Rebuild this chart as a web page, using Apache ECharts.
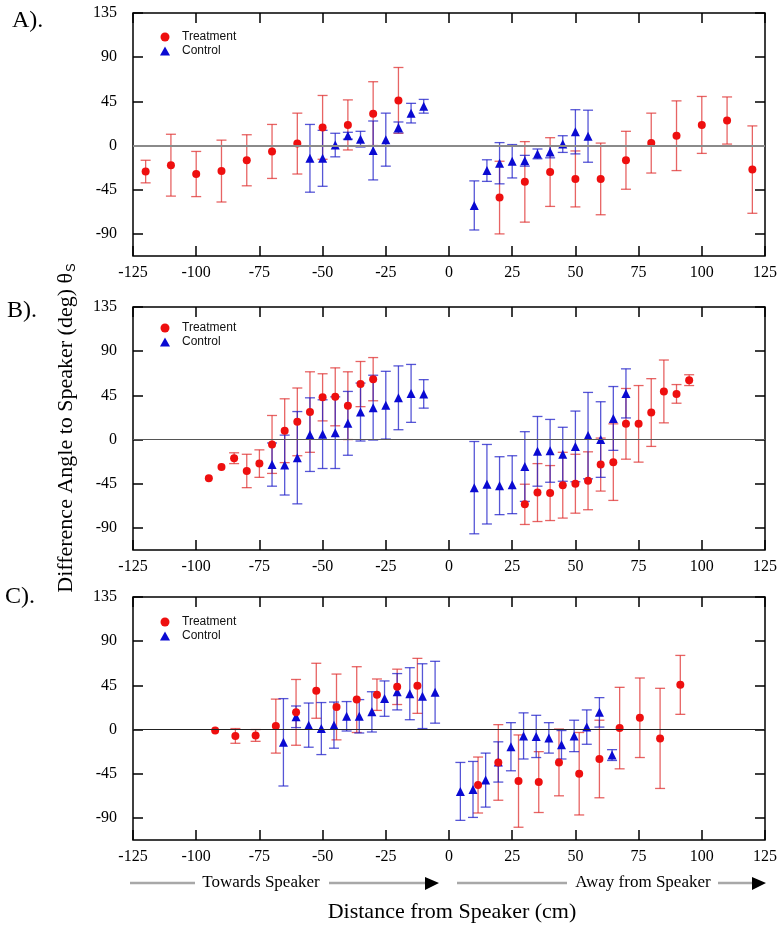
<!DOCTYPE html>
<html>
<head>
<meta charset="utf-8">
<script src="https://cdn.jsdelivr.net/npm/echarts@6.0.0/dist/echarts.min.js"></script>
<style>
  html, body { margin: 0; padding: 0; background: #fff; }
  #main { width: 780px; height: 927px; }
</style>
</head>
<body>
<div id="main"></div>
<script>
// x ticks / y ticks
const xTicks = [-125, -100, -75, -50, -25, 0, 25, 50, 75, 100, 125];
const yTicks = [-90, -45, 0, 45, 90, 135];

// Panel A
const aTreatX = [-120, -110, -100, -90, -80, -70, -60, -50, -40, -30, -20, 20, 30, 40, 50, 60, 70, 80, 90, 100, 110, 120];
const aTreatY = [-26.5, -20, -29, -26, -15, -6, 2, 18.5, 21, 32.5, 46, -53, -37, -27, -34, -34, -15, 2.5, 10, 21, 25.5, -24.5];
const aTreatErr = [11.5, 31.5, 23, 31.5, 26, 27.5, 31, 32.5, 25.5, 32.5, 33.5, 37, 41, 35, 28.5, 36.5, 29.5, 30.5, 35.5, 29, 24, 44.5];
const aCtrlX = [-55, -50, -45, -40, -35, -30, -25, -20, -15, -10, 10, 15, 20, 25, 30, 35, 40, 45, 50, 55];
const aCtrlY = [-13, -13, 0.5, 10, 6.5, -5, 6, 18.5, 33, 40, -61, -25.5, -18, -16, -15.5, -8.5, -6.5, 1.5, 14, 9.5];
const aCtrlErr = [34.5, 28.5, 12, 3.5, 8, 30, 27, 5.5, 10, 7, 25, 11, 21, 17, 5.5, 5, 6, 8.5, 22.5, 26.5];

// Panel B
const bTreatX = [-95, -90, -85, -80, -75, -70, -65, -60, -55, -50, -45, -40, -35, -30, 30, 35, 40, 45, 50, 55, 60, 65, 70, 75, 80, 85, 90, 95];
const bTreatY = [-39.5, -28, -19, -32, -24.5, -5, 9, 18, 28, 43, 43.5, 34.5, 56.5, 61.5, -66, -54, -54.5, -46.5, -45, -42, -25.5, -23, 16, 16, 27.5, 49, 46.5, 60.5];
const bTreatErr = [0, 0, 5.5, 17, 14, 29.5, 32.5, 34.5, 41, 24, 29.5, 34.5, 23, 22, 20.5, 29.5, 28, 33.5, 30, 29.5, 27, 39, 36, 39, 34.5, 32, 9.5, 5.5];
const bCtrlX = [-70, -65, -60, -55, -50, -45, -40, -35, -30, -25, -20, -15, -10, 10, 15, 20, 25, 30, 35, 40, 45, 50, 55, 60, 65, 70];
const bCtrlY = [-25.5, -26, -18.5, 5, 5.5, 7, 16.5, 28, 32.5, 35, 42.5, 47, 46.5, -49, -45.5, -47, -46, -27.5, -12, -11.5, -15, -7, 4, 0, 21.5, 47];
const bCtrlErr = [22, 30.5, 47, 37.5, 35, 36.5, 32.5, 29.5, 33, 34.5, 32.5, 29.5, 14.5, 47, 40.5, 29.5, 29.5, 35.5, 35.5, 32, 27.5, 36, 44, 38.5, 32.5, 25];

// Panel C
const cTreatX = [-92.5, -84.5, -76.5, -68.5, -60.5, -52.5, -44.5, -36.5, -28.5, -20.5, -12.5, 11.5, 19.5, 27.5, 35.5, 43.5, 51.5, 59.5, 67.5, 75.5, 83.5, 91.5];
const cTreatY = [-1, -6.5, -6, 3.5, 17.5, 39.5, 23, 30.5, 35.5, 43.5, 44.5, -56.5, -33.5, -52.5, -53.5, -33.5, -45, -30, 1.5, 12, -9, 45.5];
const cTreatErr = [0, 7.5, 6, 27.5, 33.5, 28, 33.5, 33.5, 16, 18, 28, 28.5, 38.5, 47, 31, 34, 42, 39.5, 41.5, 40.5, 51, 30];
const cCtrlX = [-65.5, -60.5, -55.5, -50.5, -45.5, -40.5, -35.5, -30.5, -25.5, -20.5, -15.5, -10.5, -5.5, 4.5, 9.5, 14.5, 19.5, 24.5, 29.5, 34.5, 39.5, 44.5, 49.5, 54.5, 59.5, 64.5];
const cCtrlY = [-13, 13, 4.5, 1, 4.5, 13.5, 13.5, 18, 31.5, 38.5, 36.5, 34, 38, -63, -61, -51.5, -33, -17.5, -6.5, -7, -8.5, -15.5, -6.5, 2.5, 17.5, -26];
const cCtrlErr = [44.5, 11, 22.5, 26.5, 23.5, 15, 17, 20.5, 18, 18.5, 26.5, 33, 31.5, 29.5, 28.5, 27.5, 20.5, 24.5, 23.5, 21.5, 15.5, 14.5, 16, 17.5, 15, 5.5];

const SERIF = "'Liberation Serif', 'Times New Roman', serif";
const RED = '#ee0f0f';
const BLUE = '#0a0ad2';
const RED_BAR = 'rgba(222,40,40,0.72)';
const BLUE_BAR = 'rgba(30,30,200,0.75)';

var dom = document.getElementById('main');
var myChart = echarts.init(dom);

function renderErr(params, api) {
    var x = api.value(0);
    var lo = api.coord([x, api.value(1)]);
    var hi = api.coord([x, api.value(2)]);
    if (Math.abs(lo[1] - hi[1]) < 1) return null;
    var w = 5;
    var style = { stroke: api.visual('color'), lineWidth: 1.3, fill: null };
    return {
        type: 'group',
        children: [
            { type: 'line', shape: { x1: lo[0], y1: lo[1], x2: hi[0], y2: hi[1] }, style: style },
            { type: 'line', shape: { x1: lo[0] - w, y1: lo[1], x2: lo[0] + w, y2: lo[1] }, style: style },
            { type: 'line', shape: { x1: hi[0] - w, y1: hi[1], x2: hi[0] + w, y2: hi[1] }, style: style }
        ]
    };
}

function errData(xs, ys, es) {
    return xs.map((x, i) => [x, ys[i] - es[i], ys[i] + es[i]]);
}
function ptData(xs, ys) {
    return xs.map((x, i) => [x, ys[i]]);
}

var panels = [
    { top: 13, zero: '#8a8a8a', zw: 2, t: [aTreatX, aTreatY, aTreatErr], c: [aCtrlX, aCtrlY, aCtrlErr], legendTop: 31 },
    { top: 307, zero: '#555', zw: 1.2, t: [bTreatX, bTreatY, bTreatErr], c: [bCtrlX, bCtrlY, bCtrlErr], legendTop: 322 },
    { top: 597, zero: '#222', zw: 1.2, t: [cTreatX, cTreatY, cTreatErr], c: [cCtrlX, cCtrlY, cCtrlErr], legendTop: 616 }
];

var grid = [], xAxis = [], yAxis = [], series = [], legend = [];

panels.forEach(function (p, i) {
    grid.push({
        left: 133, width: 634, top: p.top, height: 243,
        show: true, borderColor: '#000', borderWidth: 1.5, backgroundColor: 'transparent'
    });
    var tick = { show: true, inside: true, length: 10, lineStyle: { color: '#000', width: 1.5 } };
    var noLine = { show: false, onZero: false };
    xAxis.push({
        gridIndex: i, type: 'value', min: -125, max: 125, interval: 25, position: 'bottom',
        axisLine: noLine, axisTick: tick, splitLine: { show: false },
        axisLabel: { color: '#000', fontFamily: SERIF, fontSize: 16, margin: 9 }
    });
    xAxis.push({
        gridIndex: i, type: 'value', min: -125, max: 125, interval: 25, position: 'top',
        axisLine: noLine, axisTick: tick, splitLine: { show: false },
        axisLabel: { show: false }
    });
    yAxis.push({
        gridIndex: i, type: 'value', min: -112.5, max: 135, position: 'left',
        axisLine: noLine,
        axisTick: Object.assign({ customValues: yTicks }, tick),
        splitLine: { show: false },
        axisLabel: { customValues: yTicks, color: '#000', fontFamily: SERIF, fontSize: 16, margin: 16 }
    });
    yAxis.push({
        gridIndex: i, type: 'value', min: -112.5, max: 135, position: 'right',
        axisLine: noLine,
        axisTick: Object.assign({ customValues: yTicks }, tick),
        splitLine: { show: false },
        axisLabel: { show: false }
    });

    var xi = i * 2, yi = i * 2;
    series.push({
        type: 'custom', name: 'errT' + i, xAxisIndex: xi, yAxisIndex: yi,
        renderItem: renderErr, itemStyle: { color: RED_BAR },
        encode: { x: 0, y: [1, 2] }, data: errData(p.t[0], p.t[1], p.t[2]), z: 2,
        markLine: {
            silent: true, symbol: 'none', label: { show: false },
            lineStyle: { color: p.zero, width: p.zw, type: 'solid' },
            data: [{ yAxis: 0 }], animation: false
        }
    });
    series.push({
        type: 'custom', name: 'errC' + i, xAxisIndex: xi, yAxisIndex: yi,
        renderItem: renderErr, itemStyle: { color: BLUE_BAR },
        encode: { x: 0, y: [1, 2] }, data: errData(p.c[0], p.c[1], p.c[2]), z: 2
    });
    series.push({
        type: 'scatter', name: 'Treatment', xAxisIndex: xi, yAxisIndex: yi,
        symbol: 'circle', symbolSize: 8, itemStyle: { color: RED, opacity: 1 },
        data: ptData(p.t[0], p.t[1]), z: 4
    });
    series.push({
        type: 'scatter', name: 'Control', xAxisIndex: xi, yAxisIndex: yi,
        symbol: 'triangle', symbolSize: 9, itemStyle: { color: BLUE, opacity: 1 },
        data: ptData(p.c[0], p.c[1]), z: 3
    });

    legend.push({
        orient: 'vertical', left: 160, top: p.legendTop, padding: 0,
        itemWidth: 10, itemHeight: 9, itemGap: 2, selectedMode: false,
        textStyle: { fontFamily: "'Liberation Sans', Arial, sans-serif", fontSize: 12, color: '#111', padding: [0, 0, 0, 7] },
        data: [{ name: 'Treatment', icon: 'circle' }, { name: 'Control', icon: 'triangle' }]
    });
});

var graphic = [
    { type: 'text', left: 12, top: 9, style: { text: 'A).', font: '24px ' + SERIF, fill: '#000' } },
    { type: 'text', left: 7, top: 299, style: { text: 'B).', font: '24px ' + SERIF, fill: '#000' } },
    { type: 'text', left: 5, top: 585, style: { text: 'C).', font: '24px ' + SERIF, fill: '#000' } },
    {
        type: 'text', x: 66, y: 428, rotation: Math.PI / 2,
        style: {
            text: '{a|Difference Angle to Speaker (deg) θ}{s|S}',
            align: 'center', verticalAlign: 'middle',
            rich: {
                a: { fontFamily: SERIF, fontSize: 22, color: '#000' },
                s: { fontFamily: "'Liberation Sans', Arial, sans-serif", fontSize: 13, color: '#000', padding: [10, 0, 0, 1] }
            }
        }
    },
    { type: 'line', shape: { x1: 130, y1: 883, x2: 195, y2: 883 }, style: { stroke: '#a8a8a8', lineWidth: 2.5 } },
    { type: 'text', x: 261, y: 883, style: { text: 'Towards Speaker', font: '17px ' + SERIF, fill: '#000', align: 'center', verticalAlign: 'middle' } },
    { type: 'line', shape: { x1: 329, y1: 883, x2: 426, y2: 883 }, style: { stroke: '#a8a8a8', lineWidth: 2.5 } },
    { type: 'polygon', shape: { points: [[425, 877], [439, 883], [425, 890]] }, style: { fill: '#000' } },
    { type: 'line', shape: { x1: 457, y1: 883, x2: 567, y2: 883 }, style: { stroke: '#a8a8a8', lineWidth: 2.5 } },
    { type: 'text', x: 643, y: 883, style: { text: 'Away from Speaker', font: '17px ' + SERIF, fill: '#000', align: 'center', verticalAlign: 'middle' } },
    { type: 'line', shape: { x1: 718, y1: 883, x2: 753, y2: 883 }, style: { stroke: '#a8a8a8', lineWidth: 2.5 } },
    { type: 'polygon', shape: { points: [[752, 877], [766, 883], [752, 890]] }, style: { fill: '#000' } },
    { type: 'text', x: 452, y: 912, style: { text: 'Distance from Speaker (cm)', font: '22px ' + SERIF, fill: '#000', align: 'center', verticalAlign: 'middle' } }
];

var option = {
    animation: false,
    backgroundColor: '#fff',
    grid: grid,
    xAxis: xAxis,
    yAxis: yAxis,
    legend: legend,
    graphic: graphic,
    series: series
};

myChart.setOption(option);
</script>
</body>
</html>
